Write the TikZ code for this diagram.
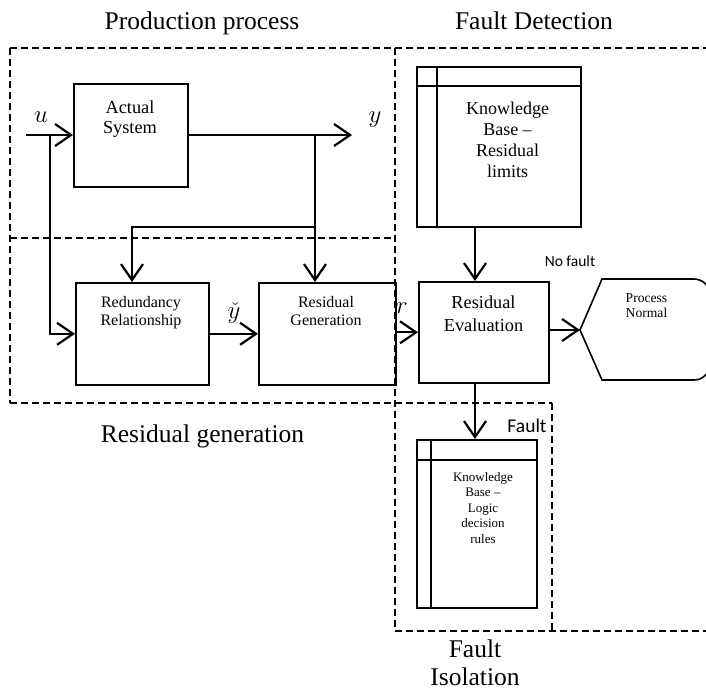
\documentclass[tikz,border=0pt]{standalone}
\usepackage{fontspec}
\setmainfont{Liberation Serif}
\newfontfamily\calib{Carlito}
\usetikzlibrary{arrows.meta}
\tikzset{
  box/.style={draw, line width=1.6pt, inner sep=0pt, anchor=north west},
  conn/.style={line width=2.2pt, -{Straight Barb[length=16pt,width=22pt]}},
  wire/.style={line width=2.2pt},
  inner/.style={line width=1.6pt},
  region/.style={line width=1.6pt, dash pattern=on 7pt off 4pt},
  title/.style={font=\fontsize{25.5}{28}\selectfont, anchor=base, align=center},
  txt/.style={anchor=base, align=center, inner sep=0pt},
  mlab/.style={anchor=base, inner sep=0pt, font=\fontsize{24.88}{26}\selectfont},
}
\begin{document}
\begin{tikzpicture}[x=1pt,y=-1pt]
\useasboundingbox (0,0) rectangle (706,691);
\clip (0,0) rectangle (706,691);

% dashed regions (each shared edge drawn once)
\draw[region] (10,48) -- (715,48);
\draw[region] (10,48) -- (10,403);
\draw[region] (10,238) -- (395,238);
\draw[region] (10,403) -- (552,403);
\draw[region] (395,48) -- (395,631);
\draw[region] (552,403) -- (552,631);
\draw[region] (395,631) -- (715,631);

% titles
\node[title] (tprod) at (202,29) {Production process};
\node[title] (tdet) at (534,29) {Fault Detection};
\node[title] (tgen) at (202.5,442) {Residual generation};
\node[title] (tiso) at (475,685) {Fault\\Isolation};

% boxes
\node[box, minimum width=114pt, minimum height=103pt] (actual) at (73,83) {};
\node[box, minimum width=133pt, minimum height=102pt] (redund) at (75,282) {};
\node[box, minimum width=137pt, minimum height=102pt] (resgen) at (258,282) {};
\node[box, minimum width=130pt, minimum height=101pt] (reseval) at (418,281) {};
\node[box, minimum width=164pt, minimum height=160pt] (kb1) at (416,66) {};
\node[box, minimum width=120pt, minimum height=168pt] (kb2) at (416,439) {};
\draw[inner] ([xshift=21pt]kb1.north west) -- ([xshift=21pt]kb1.south west);
\draw[inner] ([yshift=-20pt]kb1.north west) -- ([yshift=-20pt]kb1.north east);
\draw[inner] ([xshift=15pt]kb2.north west) -- ([xshift=15pt]kb2.south west);
\draw[inner] ([yshift=-21pt]kb2.north west) -- ([yshift=-21pt]kb2.north east);

% process normal (display shape)
\coordinate (pntip) at (580,330);
\draw[inner] (pntip) -- (602,279) -- (694,279)
  .. controls (702,279) and (709,285) .. (709,293) -- (709,366)
  .. controls (709,374) and (702,380) .. (694,380) -- (602,380) -- cycle;

% box texts (anchor base = baseline of last line)
\node[txt, font=\fontsize{18.3}{20}\selectfont] (actualtxt) at (130,133) {Actual\\System};
\node[txt, font=\fontsize{16}{18}\selectfont] (redundtxt) at (141,325) {Redundancy\\Relationship};
\node[txt, font=\fontsize{16}{18}\selectfont] (resgentxt) at (326,325) {Residual\\Generation};
\node[txt, font=\fontsize{18.3}{23}\selectfont] (resevaltxt) at (483.5,331) {Residual\\Evaluation};
\node[txt, font=\fontsize{18}{21}\selectfont] (kb1txt) at (507.5,177) {Knowledge\\Base --\\Residual\\limits};
\node[txt, font=\fontsize{13}{15.5}\selectfont] (kb2txt) at (483,543) {Knowledge\\Base --\\Logic\\decision\\rules};
\node[txt, font=\fontsize{13.6}{15}\selectfont] (pntxt) at (646.5,317) {Process\\Normal};

% labels
\node[mlab] (ulab) at (41,122) {$u$};
\node[mlab] (ylab) at (375,122) {$y$};
\node[mlab] (yclab) at (234,318) {$\check{y}$};
\node[mlab] (rlab) at (402,313) {$r$};
\node[txt, font=\calib\fontsize{15.5}{17}\selectfont] (nofault) at (570,266) {No fault};
\node[txt, font=\calib\fontsize{19.5}{21}\selectfont] (fault) at (527,432) {Fault};

% connectors
\coordinate (uin) at (26,135);
\coordinate (ujn) at (50,135);
\coordinate (yout) at (352,135);
\coordinate (yjn) at (315,135);
\coordinate (fb) at (315,227);
\coordinate (fbl) at (132,227);
\coordinate (vx) at (475,0);
\draw[conn] (uin) -- (uin -| actual.west);
\draw[conn] (ujn) |- (redund.west);
\draw[conn] (actual.east |- yout) -- (yout);
\draw[conn] (yjn) -- (yjn |- resgen.north);
\draw[conn] (fb) -- (fbl) -- (fbl |- redund.north);
\draw[conn] (redund.east) -- (resgen.west);
\draw[conn] (resgen.east |- reseval.west) -- (reseval.west);
\draw[conn] (reseval.east |- pntip) -- (pntip);
\draw[conn] (kb1.south -| vx) -- (reseval.north -| vx);
\draw[conn] (reseval.south -| vx) -- (kb2.north -| vx);
\end{tikzpicture}
\end{document}
